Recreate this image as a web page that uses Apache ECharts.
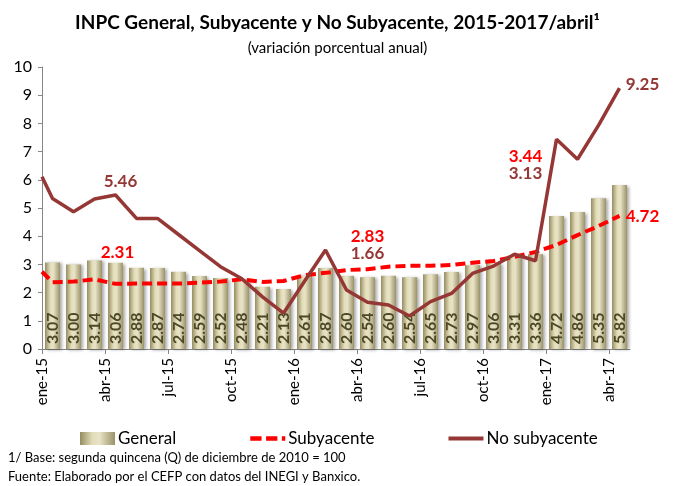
<!DOCTYPE html>
<html>
<head>
<meta charset="utf-8">
<script src="https://cdn.jsdelivr.net/npm/echarts@6/dist/echarts.min.js"></script>
<style>
  html, body { margin: 0; padding: 0; background: #fff; }
  #main { width: 675px; height: 486px; }
</style>
</head>
<body>
<div id="main"></div>
<script>
// meses (una barra por mes)
var categories = ['ene-15', 'feb-15', 'mar-15', 'abr-15', 'may-15', 'jun-15', 'jul-15', 'ago-15', 'sep-15', 'oct-15', 'nov-15', 'dic-15',
  'ene-16', 'feb-16', 'mar-16', 'abr-16', 'may-16', 'jun-16', 'jul-16', 'ago-16', 'sep-16', 'oct-16', 'nov-16', 'dic-16',
  'ene-17', 'feb-17', 'mar-17', 'abr-17'];
var tickLabels = ['ene-15', 'abr-15', 'jul-15', 'oct-15', 'ene-16', 'abr-16', 'jul-16', 'oct-16', 'ene-17', 'abr-17'];

var general = [3.07, 3.00, 3.14, 3.06, 2.88, 2.87, 2.74, 2.59, 2.52, 2.48, 2.21, 2.13,
  2.61, 2.87, 2.60, 2.54, 2.60, 2.54, 2.65, 2.73, 2.97, 3.06, 3.31, 3.36,
  4.72, 4.86, 5.35, 5.82];
var subyacente = [2.37, 2.39, 2.47, 2.31, 2.32, 2.32, 2.32, 2.35, 2.39, 2.47, 2.38, 2.41,
  2.62, 2.70, 2.80, 2.83, 2.92, 2.95, 2.95, 2.98, 3.06, 3.12, 3.27, 3.44,
  3.69, 4.04, 4.36, 4.72];
var noSubyacente = [5.34, 4.87, 5.32, 5.46, 4.63, 4.63, 4.06, 3.49, 2.92, 2.50, 1.85, 1.27,
  2.40, 3.51, 2.09, 1.66, 1.56, 1.17, 1.68, 1.97, 2.68, 2.94, 3.36, 3.13,
  7.44, 6.73, 7.93, 9.25];
// las lineas arrancan en el borde del eje
var subStart = 2.74;
var noSubStart = 6.11;

var ROJO = '#FF0000';
var VINO = '#953735';
var FONT = 'Lato';

// puntos etiquetados: serie, mes, desplazamiento del texto
var notas = [
  { s: 'no', i: 3, off: [5, -14] },
  { s: 'sub', i: 3, off: [2, -31] },
  { s: 'sub', i: 15, off: [0, -33] },
  { s: 'no', i: 15, off: [0, -49] },
  { s: 'sub', i: 23, off: [-10, -95] },
  { s: 'no', i: 23, off: [-10, -87] },
  { s: 'no', i: 27, off: [23, -4] },
  { s: 'sub', i: 27, off: [23, 1] }
];

function linea(start, vals) {
  var d = [[0, start]];
  vals.forEach(function (v, k) { d.push([k + 0.5, v]); });
  return d;
}

var notasData = notas.map(function (n) {
  var v = n.s === 'sub' ? subyacente[n.i] : noSubyacente[n.i];
  return {
    value: [n.i + 0.5, v],
    label: { offset: n.off, color: n.s === 'sub' ? ROJO : VINO }
  };
});

var ticks = tickLabels.map(function (t, k) { return k * 3; });

var myChart = echarts.init(document.getElementById('main'));
myChart.setOption({
  animation: false,
  title: [
    {
      text: 'INPC General, Subyacente y No Subyacente, 2015-2017/abril¹',
      left: 'center',
      top: 8,
      textStyle: { fontFamily: FONT, fontSize: 19, fontWeight: 'bold', color: '#000' }
    },
    {
      text: '(variación porcentual anual)',
      left: 'center',
      top: 36,
      textStyle: { fontFamily: FONT, fontSize: 15, fontWeight: 'normal', color: '#000' }
    }
  ],
  legend: {
    data: [
      { name: 'General', icon: 'rect' },
      { name: 'Subyacente', icon: 'path://M0,0H10V4H0Z M14,0H24V4H14Z M28,0H31V4H28Z' },
      { name: 'No subyacente', icon: 'path://M0,0H35V4H0Z' }
    ],
    left: 75,
    top: 425,
    itemGap: 74,
    itemWidth: 35,
    itemHeight: 13,
    symbolKeepAspect: true,
    textStyle: { fontFamily: FONT, fontSize: 17, color: '#000', padding: [0, 0, 0, -2] }
  },
  graphic: [
    {
      type: 'text', left: 8, top: 451,
      style: { text: '1/ Base: segunda quincena (Q) de diciembre de 2010 = 100', font: '13px ' + FONT, fill: '#000' }
    },
    {
      type: 'text', left: 8, top: 470,
      style: { text: 'Fuente: Elaborado por el CEFP con datos del INEGI y Banxico.', font: '13px ' + FONT, fill: '#000' }
    }
  ],
  grid: { left: 42, right: 45, top: 67, bottom: 137 },
  xAxis: [
    {
      type: 'category',
      data: categories,
      boundaryGap: true,
      axisLine: { lineStyle: { color: '#868686', width: 1 } },
      axisTick: { show: false },
      axisLabel: { show: false }
    },
    {
      type: 'value',
      min: 0,
      max: 28,
      position: 'bottom',
      axisLine: { show: false },
      splitLine: { show: false },
      axisTick: { show: true, customValues: ticks, length: 5, lineStyle: { color: '#868686' } },
      axisLabel: {
        customValues: ticks,
        rotate: 90,
        margin: 9,
        fontFamily: FONT,
        fontSize: 15,
        color: '#000',
        formatter: function (v) { return tickLabels[Math.round(v / 3)] || ''; }
      }
    }
  ],
  yAxis: {
    type: 'value',
    min: 0,
    max: 10,
    interval: 1,
    axisLine: { show: true, lineStyle: { color: '#868686' } },
    axisTick: { show: true, length: 4, lineStyle: { color: '#868686' } },
    splitLine: { show: false },
    axisLabel: { fontFamily: FONT, fontSize: 16, color: '#000', margin: 10 }
  },
  series: [
    {
      name: 'General',
      type: 'bar',
      xAxisIndex: 0,
      data: general,
      barWidth: 15,
      itemStyle: {
        color: new echarts.graphic.LinearGradient(0, 0, 1, 0, [
          { offset: 0, color: '#948c62' },
          { offset: 0.35, color: '#e2dcb8' },
          { offset: 0.55, color: '#e9e4c8' },
          { offset: 1, color: '#9a9268' }
        ]),
        shadowColor: 'rgba(0,0,0,0.35)',
        shadowBlur: 3,
        shadowOffsetX: 2,
        shadowOffsetY: 1
      },
      label: {
        show: true,
        position: 'insideBottom',
        distance: 5,
        rotate: 90,
        align: 'left',
        verticalAlign: 'middle',
        fontFamily: FONT,
        fontSize: 16,
        fontWeight: 'bold',
        color: '#4c4826',
        formatter: function (p) { return p.value.toFixed(2); }
      },
      z: 1
    },
    {
      name: 'Subyacente',
      type: 'line',
      xAxisIndex: 1,
      data: linea(subStart, subyacente),
      symbol: 'none',
      color: ROJO,
      lineStyle: { color: ROJO, width: 4, type: [10, 5], cap: 'butt' },
      z: 3
    },
    {
      name: 'No subyacente',
      type: 'line',
      xAxisIndex: 1,
      data: linea(noSubStart, noSubyacente),
      symbol: 'none',
      color: VINO,
      lineStyle: { color: VINO, width: 3.5 },
      z: 4
    },
    {
      name: 'notas',
      type: 'scatter',
      xAxisIndex: 1,
      data: notasData,
      symbol: 'circle',
      symbolSize: 1,
      itemStyle: { color: 'transparent', opacity: 1 },
      label: {
        show: true,
        position: 'inside',
        fontFamily: FONT,
        fontSize: 17,
        fontWeight: 'bold',
        formatter: function (p) { return p.value[1].toFixed(2); }
      },
      z: 5
    }
  ]
});
</script>
</body>
</html>
